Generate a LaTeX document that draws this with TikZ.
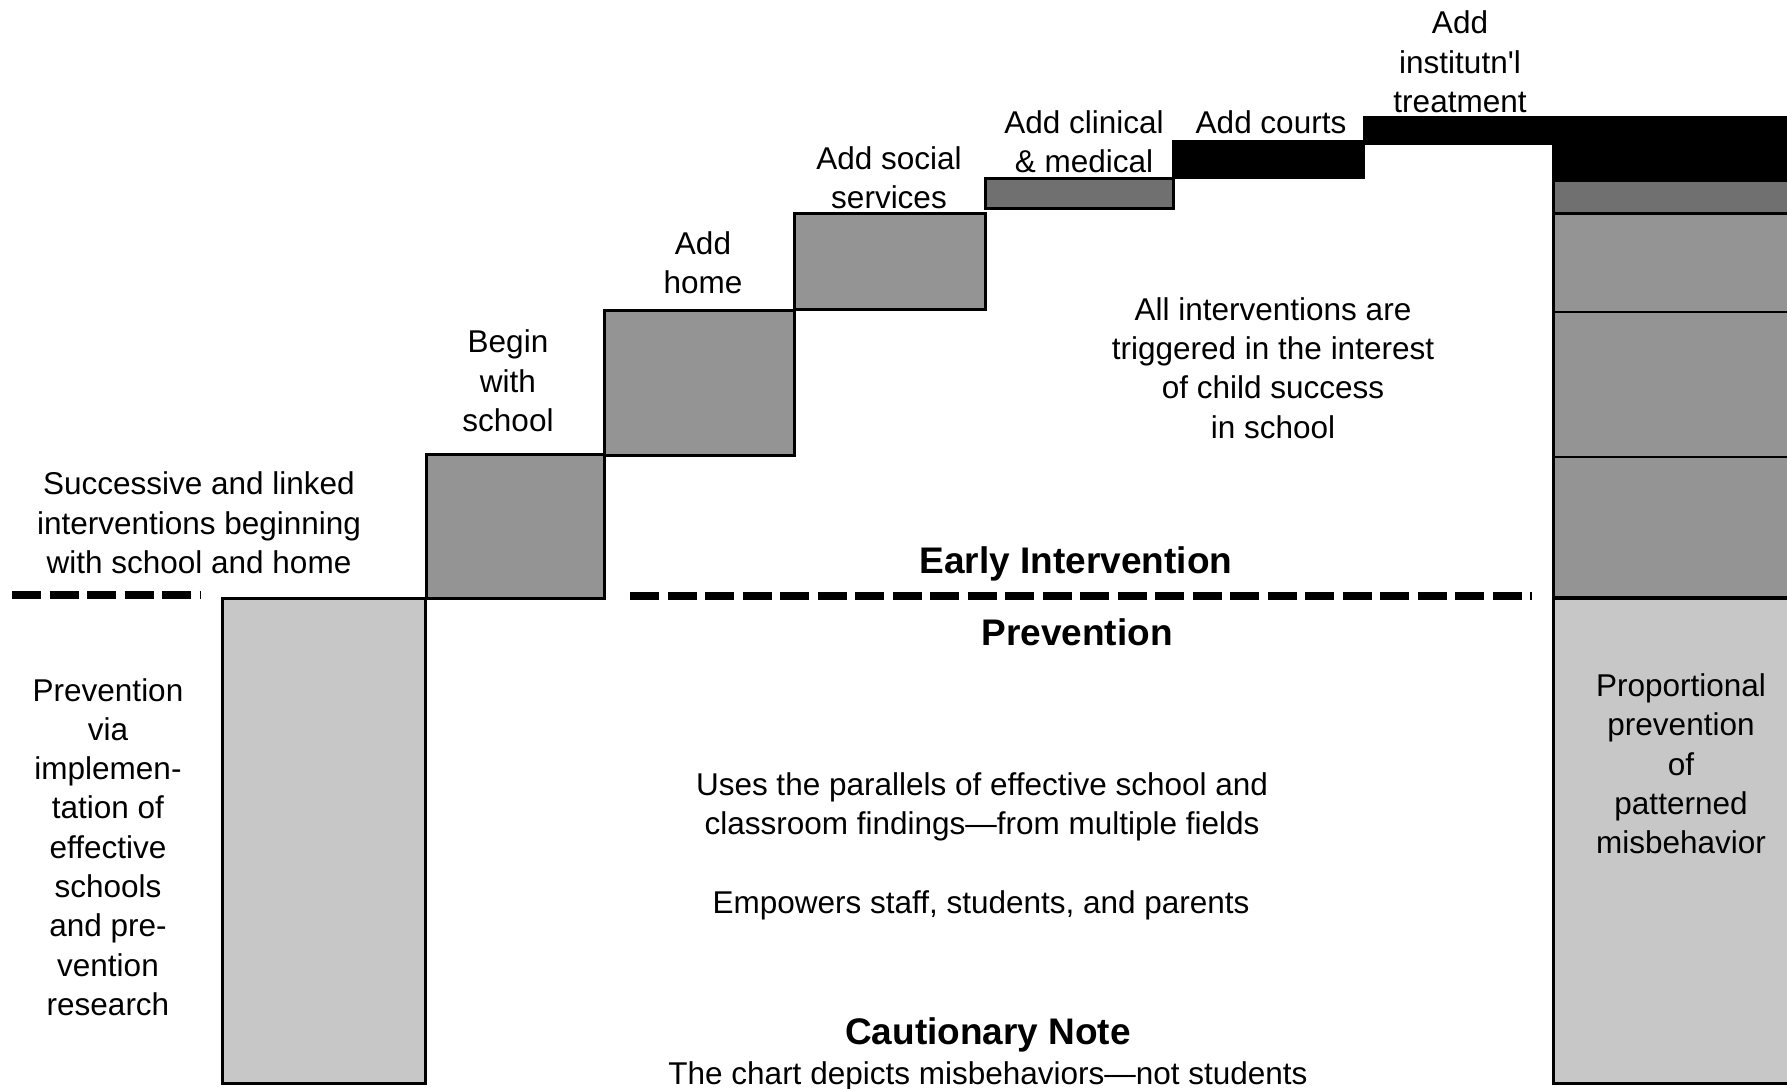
\documentclass[tikz,border=0pt]{standalone}
\usepackage{fontspec}
\setmainfont{Liberation Sans}
\definecolor{lightg}{gray}{0.78}
\definecolor{midg}{gray}{0.58}
\definecolor{darkg}{gray}{0.44}
\begin{document}
\begin{tikzpicture}[x=1pt,y=-1pt,
  lbl/.style={font=\fontsize{31.5}{39.3}\selectfont, align=center, inner sep=0pt},
  head/.style={font=\fontsize{37}{44}\selectfont\bfseries, align=center, inner sep=0pt},
  bar/.style={draw=black, line width=3pt},
  sep/.style={draw=black, line width=2pt},
  dashline/.style={line width=8pt, dash pattern=on 29pt off 8.5pt}]
\useasboundingbox (0,0) rectangle (1787,1088);
\clip (0,0) rectangle (1787,1088);

% base prevention box
\filldraw[bar, fill=lightg] (222,598) rectangle (425,1083);
% steps
\filldraw[bar, fill=midg] (426,454) rectangle (604,598);
\filldraw[bar, fill=midg] (604,310) rectangle (794,455);
\filldraw[bar, fill=midg] (794,213) rectangle (985,309);
\filldraw[bar, fill=darkg] (985,178) rectangle (1173,208);
\filldraw[bar, fill=black] (1173,141) rectangle (1363,177);
\filldraw[bar, fill=black] (1364,117) rectangle (1553,143);
% right column
\filldraw[bar, fill=lightg] (1553,598) rectangle (1800,1083);
\filldraw[bar, fill=midg] (1553,180) rectangle (1800,598);
\filldraw[bar, fill=darkg] (1553,180) rectangle (1800,213);
\draw[sep] (1553,312) -- (1800,312);
\draw[sep] (1553,457) -- (1800,457);
\draw[line width=4pt] (1553,598) -- (1800,598);
\filldraw[bar, fill=black] (1553,117) rectangle (1800,180);

% dashed boundary
\coordinate (dl1) at (12,595);
\coordinate (dl2) at (200,595);
\coordinate (dr1) at (630,596);
\coordinate (dr2) at (1532,596);
\draw[dashline] (dl1) -- (dl2);
\draw[dashline] (dr1) -- (dr2);

% labels
\node[lbl] (inst) at (1460,62) {Add\\institutn\textquotesingle l\\treatment};
\node[lbl] (courts) at (1271,122) {Add courts};
\node[lbl] (clin) at (1084,142) {Add clinical\\\& medical};
\node[lbl] (social) at (889,178) {Add social\\services};
\node[lbl] (home) at (703,263) {Add\\home};
\node[lbl] (school) at (508,381) {Begin\\with\\school};
\node[lbl] (succ) at (199,523) {Successive and linked\\interventions beginning\\with school and home};
\node[lbl] (all) at (1273,368) {All interventions are\\triggered in the interest\\of child success\\in school};
\node[head] (early) at (1076,564) {Early Intervention};
\node[head] (prev) at (1077,632) {Prevention};
\node[lbl] (via) at (108,847) {Prevention\\via\\implemen-\\tation of\\effective\\schools\\and pre-\\vention\\research};
\node[lbl] (uses) at (982,807) {Uses the parallels of effective school and\\classroom findings---from multiple fields};
\node[lbl] (emp) at (981,905) {Empowers staff, students, and parents};
\node[head] (caut) at (988,1035) {Cautionary Note};
\node[lbl] (chart) at (988,1076) {The chart depicts misbehaviors---not students};
\node[lbl] (prop) at (1681,764) {Proportional\\prevention\\of\\patterned\\misbehavior};
\end{tikzpicture}
\end{document}
